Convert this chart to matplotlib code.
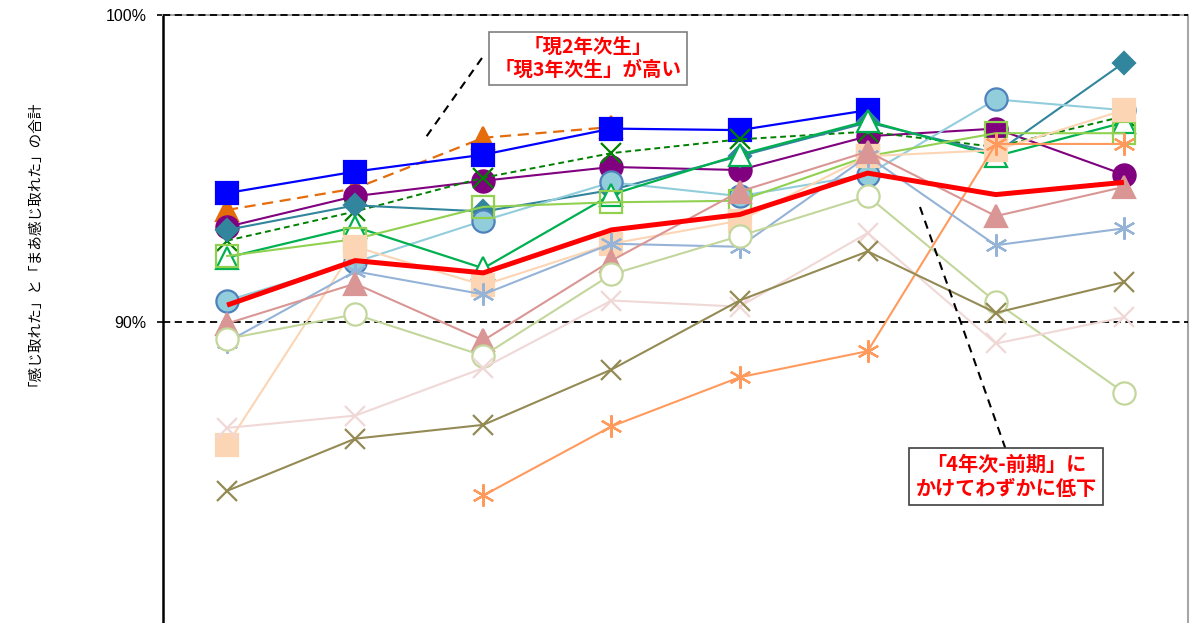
import numpy as np
import matplotlib
matplotlib.use("Agg")
import matplotlib.pyplot as plt

nan = np.nan

categories = ['1年次-前期', '1年次-後期', '2年次-前期', '2年次-後期',
              '3年次-前期', '3年次-後期', '4年次-前期', '4年次-後期']

blue_sq     = [94.2, 94.9, 95.45, 96.3, 96.25, 96.9, nan, nan]
orange_tri  = [93.65, 94.35, 96.0, 96.35, nan, nan, nan, nan]
purple_circ = [93.1, 94.1, 94.6, 95.05, 94.95, 96.05, 96.3, 94.8]
teal_dia    = [93.0, 93.8, 93.6, 94.3, 95.4, 96.5, 95.5, 98.45]
green_x     = [92.65, 93.6, 94.7, 95.5, 95.95, 96.2, 95.7, 96.7]
green_tri   = [92.1, 93.1, 91.75, 94.15, 95.45, 96.55, 95.4, 96.5]
lgreen_sq   = [92.15, 92.7, 93.75, 93.9, 93.95, 95.4, 96.15, 96.15]
lblue_circ  = [90.7, 91.95, 93.3, 94.55, 94.1, 94.8, 97.25, 96.9]
peach_sq    = [86.0, 92.45, 91.2, 92.55, 93.3, 95.4, 95.6, 96.9]
lblue_ast   = [89.35, 91.65, 90.9, 92.55, 92.45, 95.4, 92.5, 93.05]
pink_tri    = [89.95, 91.25, 89.4, 92.0, 94.25, 95.55, 93.45, 94.4]
lgreen_circ = [89.45, 90.25, 88.9, 91.55, 92.8, 94.1, 90.65, 87.7]
lpink_x     = [86.55, 86.95, 88.5, 90.7, 90.5, 92.9, 89.3, 90.15]
olive_x     = [84.5, 86.2, 86.65, 88.45, 90.7, 92.3, 90.3, 91.3]
orange_ast  = [nan, nan, 84.35, 86.6, 88.2, 89.05, 95.8, 95.8]
total_red   = [90.55, 92.0, 91.6, 93.0, 93.5, 94.85, 94.15, 94.55]

ylabel = '「感じ取れた」と「まあ感じ取れた」の合計'
note1 = '「現2年次生」\n「現3年次生」が高い'
note2 = '「4年次-前期」に\nかけてわずかに低下'

AST = (6, 2, 0)

# (data, color, linestyle, marker, ms, facecolor, edgecolor, lw)
series = [
    (orange_tri,  '#E46C0A', (0, (5, 3)), '^', 16, '#E46C0A', '#E46C0A', 1.6),
    (blue_sq,     '#0000FF', '-',         's', 16.5, '#0000FF', '#0000FF', 1.6),
    (purple_circ, '#800080', '-',         'o', 16, '#800080', '#800080', 1.5),
    (green_x,     '#008000', (0, (3, 2)), 'x', 15, '#008000', '#008000', 1.4),
    (teal_dia,    '#31859C', '-',         'D', 11.5, '#31859C', '#31859C', 1.5),
    (lblue_circ,  '#92CDDC', '-',         'o', 16, '#92CDDC', '#4F81BD', 1.5),
    (green_tri,   '#00B050', '-',         '^', 16, 'white', '#00B050', 1.6),
    (lgreen_sq,   '#92D050', '-',         's', 15.5, 'none', '#92D050', 1.5),
    (peach_sq,    '#FCD5B5', '-',         's', 16.5, '#FCD5B5', '#FCD5B5', 1.5),
    (orange_ast,  '#FF9A5C', '-',         AST, 16, '#FF9A5C', '#FF9A5C', 1.5),
    (lblue_ast,   '#95B3D7', '-',         AST, 16, '#95B3D7', '#95B3D7', 1.5),
    (pink_tri,    '#D99694', '-',         '^', 16, '#D99694', '#D99694', 1.5),
    (lgreen_circ, '#C3D69B', '-',         'o', 16, 'white', '#C3D69B', 1.5),
    (lpink_x,     '#F0D8D7', '-',         'x', 15, '#F0D8D7', '#F0D8D7', 1.5),
    (olive_x,     '#948A54', '-',         'x', 15, '#948A54', '#948A54', 1.5),
]

fig = plt.figure(figsize=(11.9, 6.23), dpi=100)
ax = fig.add_axes([163 / 1190, -6 / 623, 1025 / 1190, 614 / 623])
x = np.arange(len(categories))

ax.axhline(90, color='black', lw=1.3, ls=(0, (4, 2.5)), zorder=2.7, clip_on=False)
ax.axhline(100, color='black', lw=1.3, ls=(0, (4, 2.5)), zorder=2.7, clip_on=False)

for i, (data, col, ls, mk, ms, fc, ec, lw) in enumerate(series):
    ax.plot(x, data, color=col, ls=ls, lw=lw, marker=mk, ms=ms,
            markerfacecolor=fc, markeredgecolor=ec, markeredgewidth=1.6,
            zorder=3 + i, clip_on=False)

ax.plot(x, total_red, color='#FF0000', lw=3.6, zorder=30, solid_capstyle='butt')

ax.set_xlim(-0.5, 7.5)
ax.set_ylim(80, 100)
ax.set_xticks([])
ax.set_yticks([90, 100])
ax.set_yticklabels(['90%', '100%'], fontsize=11.5, family=['Liberation Sans', 'DejaVu Sans'])
ax.tick_params(axis='y', direction='out', length=4, width=1.2, pad=8)

ax.spines['left'].set_color('black')
ax.spines['left'].set_linewidth(1.8)
ax.spines['top'].set_color('#A6A6A6')
ax.spines['top'].set_linewidth(1.4)
ax.spines['right'].set_color('#A6A6A6')
ax.spines['right'].set_linewidth(1.5)
ax.spines['bottom'].set_visible(False)

fig.text(28 / 1190, 1 - 240 / 623, ylabel, rotation=90, ha='center', va='center',
         fontsize=10.5, family=['Noto Sans CJK JP', 'DejaVu Sans'])

jp = ['Noto Sans CJK JP', 'DejaVu Sans']
ax.text(0.4146, 0.929, note1, transform=ax.transAxes, ha='center', va='center',
        color='#FF0000', fontsize=14, fontweight='bold', family=jp, linespacing=1.2,
        bbox=dict(boxstyle='square,pad=0.3', fc='white', ec='#7F7F7F', lw=1.2), zorder=40)
ax.text(0.8224, 0.2484, note2, transform=ax.transAxes, ha='center', va='center',
        color='#FF0000', fontsize=14.5, fontweight='bold', family=jp, linespacing=1.15,
        bbox=dict(boxstyle='square,pad=0.3', fc='white', ec='#404040', lw=1.2), zorder=40)

ax.plot([0.3112, 0.2546], [0.930, 0.7964], transform=ax.transAxes, color='black',
        lw=1.5, ls=(0, (4, 3)), zorder=35, clip_on=False)
ax.plot([0.7385, 0.8224], [0.6873, 0.2915], transform=ax.transAxes, color='black',
        lw=1.5, ls=(0, (4, 3)), zorder=35, clip_on=False)

fig.savefig('out.png', dpi=100)
